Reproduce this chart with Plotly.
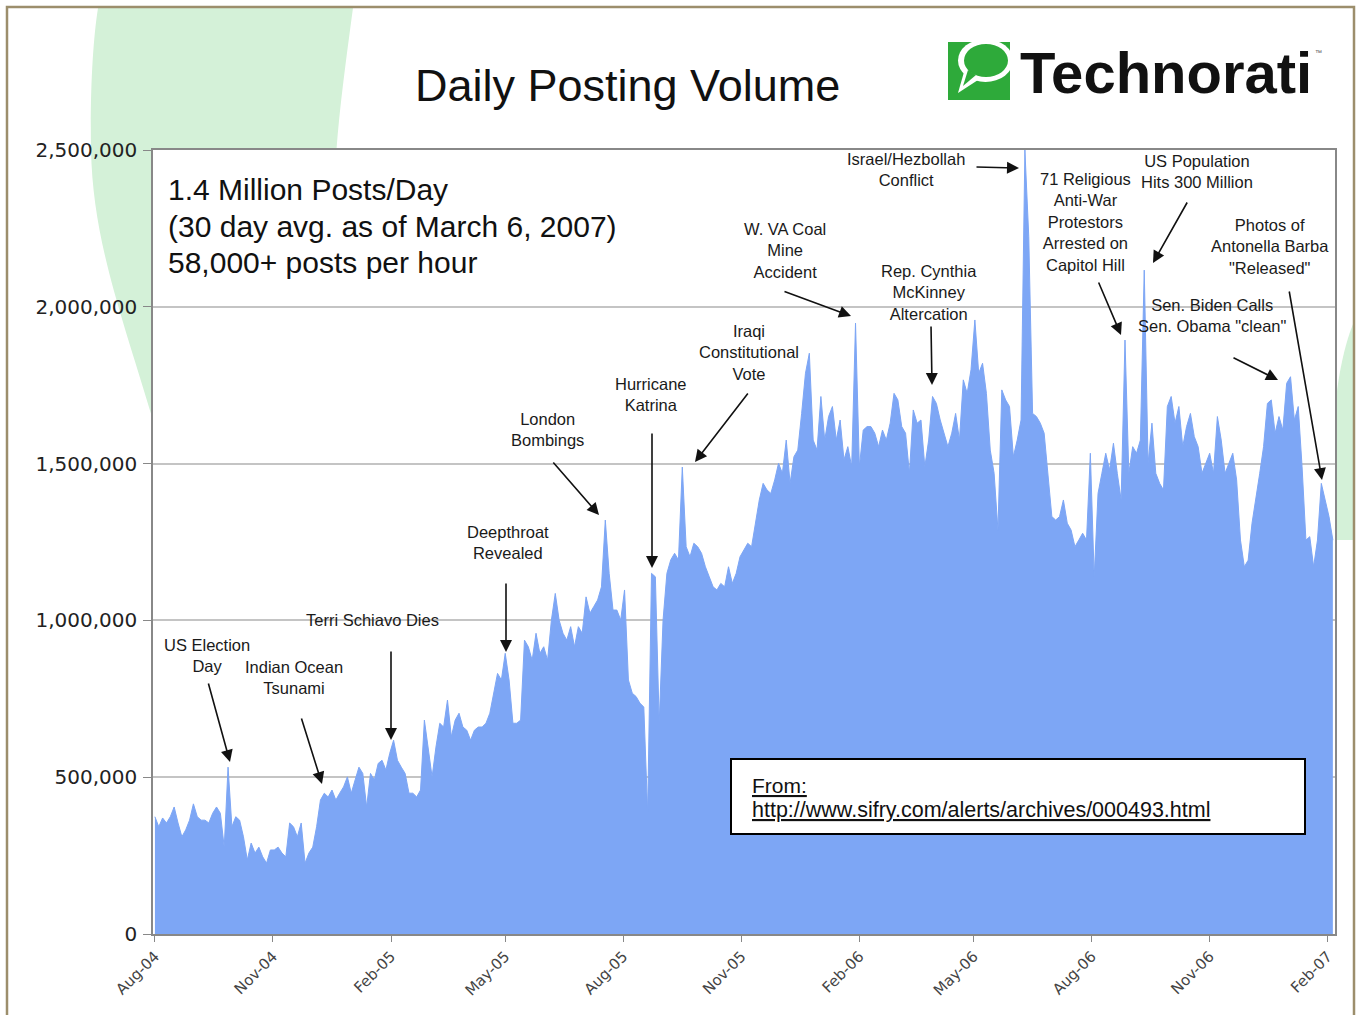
import pandas as pd
import plotly.graph_objects as go

# ---------------- data ----------------
start_date = "2004-08-01"
step_days = 3
posts_thousands = [
    374, 342, 370, 354, 374, 405, 354, 310, 332, 363,
    415, 374, 363, 363, 354, 385, 405, 385, 277, 532,
    342, 374, 363, 310, 236, 290, 258, 277, 246, 226,
    268, 268, 277, 258, 246, 354, 342, 310, 354, 226,
    258, 277, 342, 427, 449, 437, 459, 427, 449, 469,
    501, 449, 491, 532, 512, 405, 512, 491, 544, 554,
    523, 576, 618, 554, 532, 512, 449, 449, 437, 459,
    682, 596, 501, 596, 672, 660, 746, 629, 682, 704,
    660, 650, 618, 650, 660, 660, 672, 704, 768, 831,
    810, 895, 810, 672, 672, 682, 937, 916, 873, 959,
    895, 916, 873, 1001, 1086, 1001, 959, 937, 980, 916,
    980, 959, 1075, 1023, 1044, 1065, 1107, 1320, 1150, 1033,
    1033, 1001, 1097, 810, 768, 757, 736, 724, 385, 1150,
    1139, 672, 1001, 1150, 1193, 1214, 1193, 1489, 1235, 1203,
    1246, 1235, 1214, 1171, 1139, 1107, 1097, 1118, 1107, 1171,
    1118, 1150, 1203, 1225, 1246, 1235, 1310, 1384, 1437, 1416,
    1405, 1448, 1501, 1469, 1575, 1437, 1522, 1543, 1660, 1788,
    1852, 1575, 1543, 1714, 1575, 1650, 1682, 1575, 1639, 1512,
    1554, 1490, 1948, 1490, 1607, 1618, 1618, 1597, 1554, 1607,
    1575, 1629, 1724, 1703, 1618, 1597, 1469, 1671, 1629, 1639,
    1490, 1575, 1714, 1692, 1639, 1597, 1554, 1597, 1660, 1575,
    1767, 1724, 1799, 1958, 1788, 1820, 1724, 1543, 1469, 1288,
    1735, 1703, 1682, 1522, 1575, 1639, 2500, 2224, 1660, 1650,
    1629, 1597, 1469, 1331, 1320, 1331, 1384, 1310, 1288, 1235,
    1256, 1278, 1256, 1533, 1139, 1405, 1469, 1533, 1480, 1565,
    1469, 1384, 1894, 1469, 1554, 1533, 1575, 2117, 1501, 1629,
    1469, 1437, 1416, 1682, 1714, 1629, 1682, 1554, 1618, 1660,
    1586, 1554, 1469, 1501, 1533, 1469, 1650, 1575, 1469, 1501,
    1533, 1448, 1256, 1171, 1192, 1310, 1384, 1469, 1554, 1692,
    1703, 1597, 1650, 1607, 1756, 1777, 1639, 1682, 1490, 1256,
    1267, 1171, 1256, 1437, 1384, 1331, 1256,
]
tick_dates = ["2004-08-01", "2004-11-01", "2005-02-01", "2005-05-01", "2005-08-01",
              "2005-11-01", "2006-02-01", "2006-05-01", "2006-08-01", "2006-11-01",
              "2007-02-01"]
tick_labels = ["Aug-04", "Nov-04", "Feb-05", "May-05", "Aug-05", "Nov-05",
               "Feb-06", "May-06", "Aug-06", "Nov-06", "Feb-07"]
y_ticks = [0, 500000, 1000000, 1500000, 2000000, 2500000]

summary_lines = ["1.4 Million Posts/Day", "(30 day avg. as of March 6, 2007)",
                 "58,000+ posts per hour"]
event_labels = [
    "US Election<br>Day", "Indian Ocean<br>Tsunami", "Terri Schiavo Dies",
    "Deepthroat<br>Revealed", "London<br>Bombings", "Hurricane<br>Katrina",
    "Iraqi<br>Constitutional<br>Vote", "W. VA Coal<br>Mine<br>Accident",
    "Israel/Hezbollah<br>Conflict", "Rep. Cynthia<br>McKinney<br>Altercation",
    "71 Religious<br>Anti-War<br>Protestors<br>Arrested on<br>Capitol Hill",
    "US Population<br>Hits 300 Million",
    "Photos of<br>Antonella Barba<br>\"Released\"",
    "Sen. Biden Calls<br>Sen. Obama \"clean\"",
]

dates = pd.date_range(start=start_date, periods=len(posts_thousands), freq=f"{step_days}D")
posts = [v * 1000 for v in posts_thousands]

# ---------------- layout helpers (pixel -> paper) ----------------
W, H = 1359, 1015
L, R, T, B = 153, 1335, 150, 934


def px(x):
    return (x - L) / (R - L)


def py(y):
    return (B - y) / (B - T)


def path(points_cmds):
    out = []
    for item in points_cmds:
        if isinstance(item, str):
            out.append(item)
        else:
            out.append(f"{px(item[0]):.5f},{py(item[1]):.5f}")
    return " ".join(out)


BLUE = "rgb(125,166,245)"
GREEN_BG = "rgb(212,241,216)"

fig = go.Figure()
fig.add_trace(go.Scatter(
    x=dates, y=posts, mode="lines", fill="tozeroy",
    fillcolor=BLUE, line=dict(color=BLUE, width=1), hoverinfo="skip",
    showlegend=False,
))

shapes = []
# light green decorative swoosh (top-left)
shapes.append(dict(
    type="path", xref="paper", yref="paper", layer="below",
    path=path(["M", (98, 8), "L", (353, 8), "C", (346, 60), (338, 120), (336, 160),
               "L", (336, 420), "L", (153, 420), "C", (120, 310), (93, 240), (91, 150),
               "C", (90, 90), (93, 40), (98, 8), "Z"]),
    fillcolor=GREEN_BG, line=dict(width=0),
))
# right-side green patch
shapes.append(dict(
    type="path", xref="paper", yref="paper", layer="below",
    path=path(["M", (1354, 322), "C", (1346, 340), (1339, 370), (1336, 400),
               "L", (1336, 540), "L", (1354, 540), "Z"]),
    fillcolor=GREEN_BG, line=dict(width=0),
))
# white plot area
shapes.append(dict(type="rect", xref="paper", yref="paper", layer="below",
                   x0=0, x1=1, y0=0, y1=1, fillcolor="white", line=dict(width=0)))
# outer frame
shapes.append(dict(type="rect", xref="paper", yref="paper", layer="below",
                   x0=px(7), x1=px(1354), y0=py(1030), y1=py(7),
                   fillcolor="rgba(0,0,0,0)", line=dict(color="#9C8E6C", width=2.5)))
# source box
shapes.append(dict(type="rect", xref="paper", yref="paper", layer="above",
                   x0=px(731), x1=px(1305), y0=py(834), y1=py(759),
                   fillcolor="white", line=dict(color="black", width=2)))
# Technorati logo icon
shapes.append(dict(type="rect", xref="paper", yref="paper", layer="above",
                   x0=px(948), x1=px(1010), y0=py(100), y1=py(42),
                   fillcolor="#2EAA3A", line=dict(width=0)))
shapes.append(dict(type="circle", xref="paper", yref="paper", layer="above",
                   x0=px(958), x1=px(1013), y0=py(82), y1=py(39),
                   fillcolor="white", line=dict(width=0)))
shapes.append(dict(type="path", xref="paper", yref="paper", layer="above",
                   path=path(["M", (964, 72), "L", (978, 80), "L", (958, 93), "Z"]),
                   fillcolor="white", line=dict(width=0)))
shapes.append(dict(type="circle", xref="paper", yref="paper", layer="above",
                   x0=px(964), x1=px(1008), y0=py(77), y1=py(44),
                   fillcolor="#2EAA3A", line=dict(width=0)))
shapes.append(dict(type="path", xref="paper", yref="paper", layer="above",
                   path=path(["M", (968, 70), "L", (976, 75), "L", (963, 86), "Z"]),
                   fillcolor="#2EAA3A", line=dict(width=0)))

annotations = []
FONT = "Liberation Sans, Arial, sans-serif"

# title
annotations.append(dict(xref="paper", yref="paper", x=px(627), y=py(86),
                        text="Daily Posting Volume", showarrow=False,
                        xanchor="center", yanchor="middle",
                        font=dict(family=FONT, size=45, color="#111111")))
# Technorati wordmark
annotations.append(dict(xref="paper", yref="paper", x=px(1018), y=py(73),
                        text="<b>Technorati</b>", showarrow=False,
                        xanchor="left", yanchor="middle",
                        font=dict(family=FONT, size=58, color="#111111")))
annotations.append(dict(xref="paper", yref="paper", x=px(1318), y=py(52),
                        text="™", showarrow=False, xanchor="center", yanchor="middle",
                        font=dict(family=FONT, size=7, color="#555555")))

# summary text
for line, yy in zip(summary_lines, [190, 226, 262]):
    annotations.append(dict(xref="paper", yref="paper", x=px(166), y=py(yy),
                            text=line, showarrow=False, xanchor="left", yanchor="middle",
                            font=dict(family=FONT, size=30, color="#111111")))

# source text
annotations.append(dict(xref="paper", yref="paper", x=px(750), y=py(785),
                        text="<u>From:</u>", showarrow=False, xanchor="left", yanchor="middle",
                        font=dict(family=FONT, size=21, color="#111111")))
annotations.append(dict(xref="paper", yref="paper", x=px(750), y=py(810),
                        text="<u>http://www.sifry.com/alerts/archives/000493.html</u>",
                        showarrow=False, xanchor="left", yanchor="middle",
                        font=dict(family=FONT, size=21.5, color="#111111")))

# event labels (centre positions in pixels)
label_pos = [(207, 655), (294, 677), (372, 620), (508, 542), (547, 430), (651, 394),
             (749, 352), (785, 250), (906, 169), (929, 292), (1085, 222), (1197, 171),
             (1270, 247), (1212, 315)]
for txt, (lx, ly) in zip(event_labels, label_pos):
    annotations.append(dict(xref="paper", yref="paper", x=px(lx), y=py(ly), text=txt,
                            showarrow=False, xanchor="center", yanchor="middle",
                            align="center",
                            font=dict(family=FONT, size=16.5, color="#1a1a1a")))

# arrows: (head_x, head_y, tail_x, tail_y) in pixels
arrows = [(230, 762, 208, 682), (322, 784, 301, 717), (391, 740, 391, 650),
          (506, 652, 506, 582), (599, 515, 552, 461), (652, 568, 652, 432),
          (695, 462, 749, 392), (851, 316, 783, 291), (932, 385, 931, 325),
          (1019, 168, 975, 167), (1121, 335, 1098, 281), (1153, 263, 1188, 201),
          (1278, 380, 1232, 357), (1322, 480, 1289, 290)]
for hx, hy, tx, ty in arrows:
    annotations.append(dict(xref="paper", yref="paper", x=px(hx), y=py(hy), text="",
                            showarrow=True, arrowhead=2, arrowsize=1.5, arrowwidth=1.6,
                            arrowcolor="#111111", ax=tx - hx, ay=ty - hy))

fig.update_layout(
    width=W, height=H,
    margin=dict(l=L, r=W - R, t=T, b=H - B, pad=0),
    paper_bgcolor="white", plot_bgcolor="rgba(0,0,0,0)",
    shapes=shapes, annotations=annotations, showlegend=False,
    xaxis=dict(type="date", range=["2004-07-30 12:00", "2007-02-06 16:00"],
               tickvals=tick_dates, ticktext=tick_labels, tickangle=-45,
               ticks="outside", ticklen=6, tickcolor="#888888", tickwidth=1,
               showgrid=False, zeroline=False, showline=True, linecolor="#888888",
               linewidth=1.5, mirror=True,
               tickfont=dict(family="DejaVu Sans, sans-serif", size=15, color="#444444")),
    yaxis=dict(range=[0, 2500000], tickvals=y_ticks, tickformat=",d",
               ticks="outside", ticklen=8, tickcolor="#888888", tickwidth=1,
               showgrid=True, gridcolor="#C4C4C4", gridwidth=1.5, zeroline=False,
               showline=True, linecolor="#888888", linewidth=1.5, mirror=True,
               ticklabelstandoff=2,
               tickfont=dict(family="DejaVu Sans, sans-serif", size=20, color="#222222")),
)

fig.write_html("out.html", config={"displayModeBar": False},
               post_script="document.body.style.margin='0';document.body.style.overflow='hidden';")
